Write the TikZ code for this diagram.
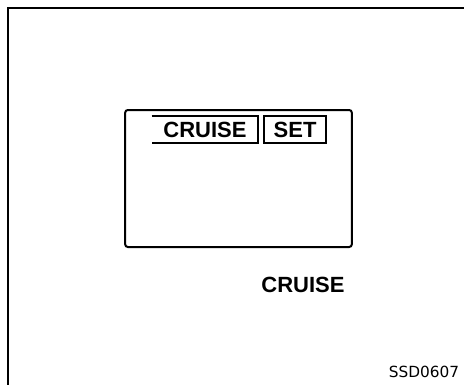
\documentclass[tikz,border=0pt]{standalone}
\usepackage{fontspec}
\setmainfont{Liberation Sans}
\newfontfamily\codefont{DejaVu Sans}
\usetikzlibrary{positioning}

\begin{document}
\begin{tikzpicture}[
  x=0.75pt, y=-0.75pt,
  frameline/.style={draw=black, line width=1.6pt},
  display/.style={draw=black, line width=1.5pt, rounded corners=2pt,
                  minimum width=170pt, minimum height=102.75pt, inner sep=0pt},
  lcdtext/.style={font=\fontsize{16.5}{16.5}\selectfont\bfseries, inner sep=0pt,
                  minimum height=20.25pt},
  caption/.style={font=\fontsize{16.5}{16.5}\selectfont\bfseries},
  figid/.style={font=\codefont\fontsize{11.5}{11.5}\selectfont}
]

\useasboundingbox (0,0) rectangle (464,385);

% --- Outer frame (top and left only) ---
\coordinate (FTL) at (8,8);
\coordinate (FTR) at (464,8);
\coordinate (FBL) at (8,385);
\draw[frameline] (FTR) -- (FTL) -- (FBL);

% --- Display screen ---
\node[display] (screen) at (238.5,178.5) {};

% --- Indicator labels on the screen ---
\node[lcdtext, minimum width=79.5pt] (cruiselbl) at (205,129.5) {CRUISE};
\draw[line width=1.2pt] (cruiselbl.north west) -- (cruiselbl.north east)
  -- (cruiselbl.south east) -- (cruiselbl.south west);

\node[lcdtext, draw, line width=1.2pt, minimum width=46.5pt,
      right=3.75pt of cruiselbl] (setlbl) {SET};

% --- Caption below the screen ---
\node[caption] (caption) at (303,285) {CRUISE};

% --- Figure id ---
\node[figid] (figno) at (424,372) {SSD0607};

\end{tikzpicture}
\end{document}
